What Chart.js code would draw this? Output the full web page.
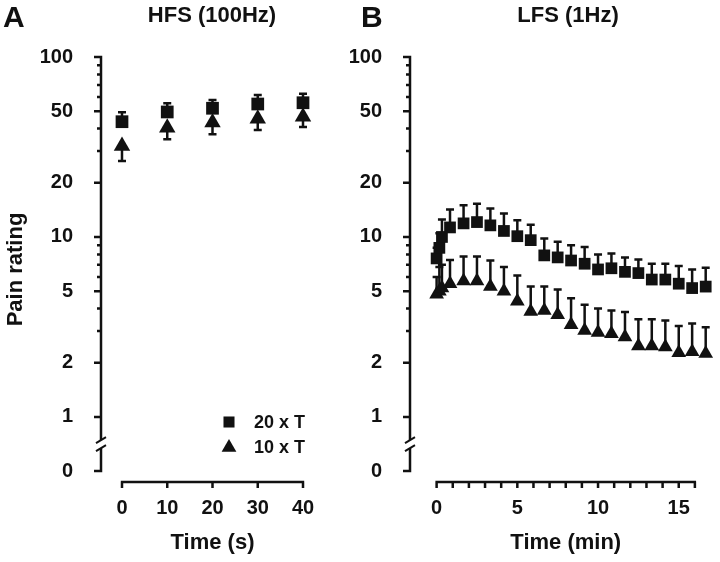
<!DOCTYPE html>
<html>
<head>
<meta charset="utf-8">
<script src="https://cdn.jsdelivr.net/npm/chart.js@4.4.1/dist/chart.umd.min.js"></script>
<style>
  html, body { margin: 0; padding: 0; background: #fff; }
  body { width: 720px; height: 562px; position: relative; overflow: hidden;
         font-family: 'Liberation Sans', Arial, sans-serif; color: #111; }
  .panel { position: absolute; top: 0; height: 562px; }
  #panelA { left: 0; width: 345px; }
  #panelB { left: 345px; width: 385px; }
  .letter { position: absolute; top: 2px; font-size: 30px; font-weight: bold; line-height: 1; }
  .title { position: absolute; top: 4px; width: 200px; text-align: center;
           font-size: 22px; font-weight: bold; line-height: 22px; }
</style>
</head>
<body>
<div class="panel" id="panelA"><canvas id="chartA"></canvas></div>
<div class="panel" id="panelB"><canvas id="chartB"></canvas></div>
<div class="letter" style="left:3px">A</div>
<div class="letter" style="left:361px">B</div>
<div class="title" style="left:112px">HFS (100Hz)</div>
<div class="title" style="left:468px">LFS (1Hz)</div>
<script>
const INK = '#111';
const FONT = "'Liberation Sans', Arial, sans-serif";

// Panel A - HFS (100Hz), time in s
const TIME_A = [0, 10, 20, 30, 40];
const SQ_A = [43.7, 49.5, 51.9, 54.8, 55.7];        // 20 x T
const SQ_A_SEM = [5.6, 5.8, 5.8, 6.7, 6.8];
const TRI_A = [32.0, 40.5, 43.2, 45.4, 46.6];       // 10 x T
const TRI_A_SEM = [5.6, 5.6, 6.0, 6.1, 5.8];
const X_TICKS_A = [0, 10, 20, 30, 40];
const X_LABELS_A = [0, 10, 20, 30, 40];

// Panel B - LFS (1Hz), time in min
const TIME_B = [0, 0.17, 0.33, 0.83, 1.67, 2.5, 3.33, 4.17, 5, 5.83, 6.67, 7.5,
                8.33, 9.17, 10, 10.83, 11.67, 12.5, 13.33, 14.17, 15, 15.83, 16.67];
const SQ_B = [7.6, 8.7, 10.0, 11.3, 11.9, 12.1, 11.6, 10.8, 10.1, 9.6, 7.9, 7.7,
              7.4, 7.1, 6.6, 6.7, 6.4, 6.3, 5.8, 5.8, 5.5, 5.2, 5.3];
const SQ_B_SEM = [1.1, 1.8, 2.5, 2.9, 3.1, 3.2, 2.8, 2.7, 2.3, 2.1, 1.9, 1.7,
                  1.6, 1.7, 1.4, 1.4, 1.3, 1.2, 1.3, 1.3, 1.4, 1.4, 1.45];
const TRI_B = [4.8, 5.0, 5.2, 5.5, 5.7, 5.7, 5.3, 5.0, 4.4, 3.85, 3.9, 3.7,
               3.25, 3.02, 2.95, 2.9, 2.78, 2.48, 2.48, 2.45, 2.27, 2.3, 2.25];
const TRI_B_SEM = [1.2, 1.8, 1.8, 1.95, 2.1, 2.1, 2.1, 1.8, 1.7, 1.45, 1.4, 1.4,
                   1.32, 1.18, 1.05, 1.0, 1.05, 1.01, 1.01, 0.98, 0.93, 1.0, 0.9];
const X_TICKS_B = [0, 1, 2, 3, 4, 5, 6, 7, 8, 9, 10, 11, 12, 13, 14, 15, 16];
const X_LABELS_B = [0, 5, 10, 15];

// shared log y axis with a break down to "0"
const Y_LABELED = [1, 2, 5, 10, 20, 50, 100];
const Y_MINOR = [3, 4, 6, 7, 8, 9, 30, 40, 60, 70, 80, 90];
const Y_ZERO = 0.5;   // where the broken axis places "0"
const Y_MIN = 0.435;
const Y_MAX = 100;

const toPoints = (xs, ys) => xs.map((x, i) => ({ x: x, y: ys[i] }));

// Prism-style axes: y line with a break, offset x line
const brokenAxes = {
    id: 'brokenAxes',
    beforeDatasetsDraw(chart) {
        const { ctx, chartArea, scales: { x, y } } = chart;
        const ax = chartArea.left;
        const top = y.getPixelForValue(Y_MAX);
        const zero = y.getPixelForValue(Y_ZERO);
        const one = y.getPixelForValue(Y_LABELED[0]);
        const mid = (one + zero) / 2;
        const gap = 4;
        ctx.save();
        ctx.strokeStyle = INK;
        ctx.lineWidth = 2.5;
        ctx.beginPath();
        ctx.moveTo(ax, top - 1.2);
        ctx.lineTo(ax, mid - gap);
        ctx.moveTo(ax, mid + gap);
        ctx.lineTo(ax, zero + 1.2);
        y.ticks.forEach(t => {
            const py = y.getPixelForValue(t.value);
            const len = Y_MINOR.includes(t.value) ? 4 : 7;
            ctx.moveTo(ax - len, py);
            ctx.lineTo(ax, py);
        });
        ctx.stroke();

        ctx.lineWidth = 2;
        ctx.beginPath();
        ctx.moveTo(ax - 5, mid - gap + 3);
        ctx.lineTo(ax + 5, mid - gap - 3);
        ctx.moveTo(ax - 5, mid + gap + 3);
        ctx.lineTo(ax + 5, mid + gap - 3);
        ctx.stroke();

        const ay = chartArea.bottom;
        const first = x.getPixelForValue(x.ticks[0].value);
        const last = x.getPixelForValue(x.ticks[x.ticks.length - 1].value);
        ctx.lineWidth = 2.5;
        ctx.beginPath();
        ctx.moveTo(first - 1.2, ay);
        ctx.lineTo(last + 1.2, ay);
        x.ticks.forEach(t => {
            const px = x.getPixelForValue(t.value);
            ctx.moveTo(px, ay);
            ctx.lineTo(px, ay + 6);
        });
        ctx.stroke();
        ctx.restore();
    }
};

// one-sided SEM bars, direction per dataset
const errorBars = {
    id: 'errorBars',
    beforeDatasetsDraw(chart) {
        const { ctx, scales: { x, y } } = chart;
        ctx.save();
        ctx.strokeStyle = INK;
        ctx.lineWidth = 2.5;
        chart.data.datasets.forEach(ds => {
            ds.data.forEach((p, i) => {
                const px = x.getPixelForValue(p.x);
                const y0 = y.getPixelForValue(p.y);
                const y1 = y.getPixelForValue(p.y + ds.errDir * ds.errors[i]);
                ctx.beginPath();
                ctx.moveTo(px, y0);
                ctx.lineTo(px, y1);
                ctx.moveTo(px - 4, y1);
                ctx.lineTo(px + 4, y1);
                ctx.stroke();
            });
        });
        ctx.restore();
    }
};

const symbolLegend = {
    id: 'symbolLegend',
    afterDatasetsDraw(chart, args, opts) {
        if (!opts.display) return;
        const { ctx, chartArea } = chart;
        ctx.save();
        ctx.fillStyle = INK;
        ctx.font = 'bold 18px ' + FONT;
        ctx.textBaseline = 'middle';
        chart.data.datasets.forEach((ds, i) => {
            const cy = chartArea.bottom - 60 + i * 25.5;
            Chart.helpers.drawPoint(ctx, {
                pointStyle: ds.pointStyle, radius: ds.legendRadius, rotation: 0, borderWidth: 0
            }, chartArea.right - 95, cy);
            ctx.fillText(ds.label, chartArea.right - 70, cy + 1);
        });
        ctx.restore();
    }
};

function makeChart(id, cfg) {
    const tickFont = { family: FONT, size: 20, weight: 'bold' };
    const titleFont = { family: FONT, size: 22, weight: 'bold' };
    return new Chart(document.getElementById(id), {
        type: 'scatter',
        data: {
            datasets: [{
                label: '20 x T',
                data: toPoints(cfg.time, cfg.sq),
                errors: cfg.sqSem,
                errDir: 1,
                pointStyle: 'rect',
                pointRadius: cfg.sqRadius,
                legendRadius: 7.8,
                backgroundColor: INK,
                borderWidth: 0,
                clip: false
            }, {
                label: '10 x T',
                data: toPoints(cfg.time, cfg.tri),
                errors: cfg.triSem,
                errDir: cfg.triDir,
                pointStyle: 'triangle',
                pointRadius: cfg.triRadius,
                legendRadius: 8.5,
                backgroundColor: INK,
                borderWidth: 0,
                clip: false
            }]
        },
        options: {
            responsive: true,
            maintainAspectRatio: false,
            devicePixelRatio: 1,
            animation: false,
            events: [],
            layout: { padding: { top: 57, left: 0, bottom: 0, right: cfg.padRight } },
            plugins: {
                legend: { display: false },
                tooltip: { enabled: false },
                symbolLegend: { display: cfg.legend }
            },
            scales: {
                x: {
                    type: 'linear',
                    min: cfg.xMin,
                    max: cfg.xMax,
                    afterBuildTicks: s => { s.ticks = cfg.xTicks.map(v => ({ value: v })); },
                    afterFit: s => { s.height = 80; },
                    grid: { display: false, drawTicks: false },
                    border: { display: false },
                    ticks: {
                        padding: 14,
                        autoSkip: false,
                        maxRotation: 0,
                        color: INK,
                        font: tickFont,
                        callback: v => cfg.xLabels.includes(v) ? String(v) : ''
                    },
                    title: {
                        display: true,
                        text: cfg.xTitle,
                        color: INK,
                        font: titleFont,
                        padding: { top: 0, bottom: 6 }
                    }
                },
                y: {
                    type: 'logarithmic',
                    min: Y_MIN,
                    max: Y_MAX,
                    afterBuildTicks: s => {
                        s.ticks = [Y_ZERO].concat(Y_LABELED, Y_MINOR).map(v => ({ value: v }));
                    },
                    afterFit: s => { s.width = cfg.axisLeft; },
                    grid: { display: false, drawTicks: false },
                    border: { display: false },
                    ticks: {
                        padding: 28,
                        autoSkip: false,
                        color: INK,
                        font: tickFont,
                        callback: v => v === Y_ZERO ? '0' : (Y_LABELED.includes(v) ? String(v) : '')
                    },
                    title: {
                        display: cfg.yTitle,
                        text: 'Pain rating',
                        color: INK,
                        font: titleFont,
                        padding: { top: 3, bottom: 0 }
                    }
                }
            }
        },
        plugins: [brokenAxes, errorBars, symbolLegend]
    });
}

makeChart('chartA', {
    time: TIME_A, sq: SQ_A, sqSem: SQ_A_SEM, tri: TRI_A, triSem: TRI_A_SEM,
    triDir: -1, sqRadius: 9, triRadius: 9.5,
    xMin: -4.64, xMax: 44.64, xTicks: X_TICKS_A, xLabels: X_LABELS_A,
    xTitle: 'Time (s)', axisLeft: 101, padRight: 21, yTitle: true, legend: true
});

makeChart('chartB', {
    time: TIME_B, sq: SQ_B, sqSem: SQ_B_SEM, tri: TRI_B, triSem: TRI_B_SEM,
    triDir: 1, sqRadius: 8.3, triRadius: 8.5,
    xMin: -1.649, xMax: 17.649, xTicks: X_TICKS_B, xLabels: X_LABELS_B,
    xTitle: 'Time (min)', axisLeft: 65, padRight: 4, yTitle: false, legend: false
});
</script>
</body>
</html>
